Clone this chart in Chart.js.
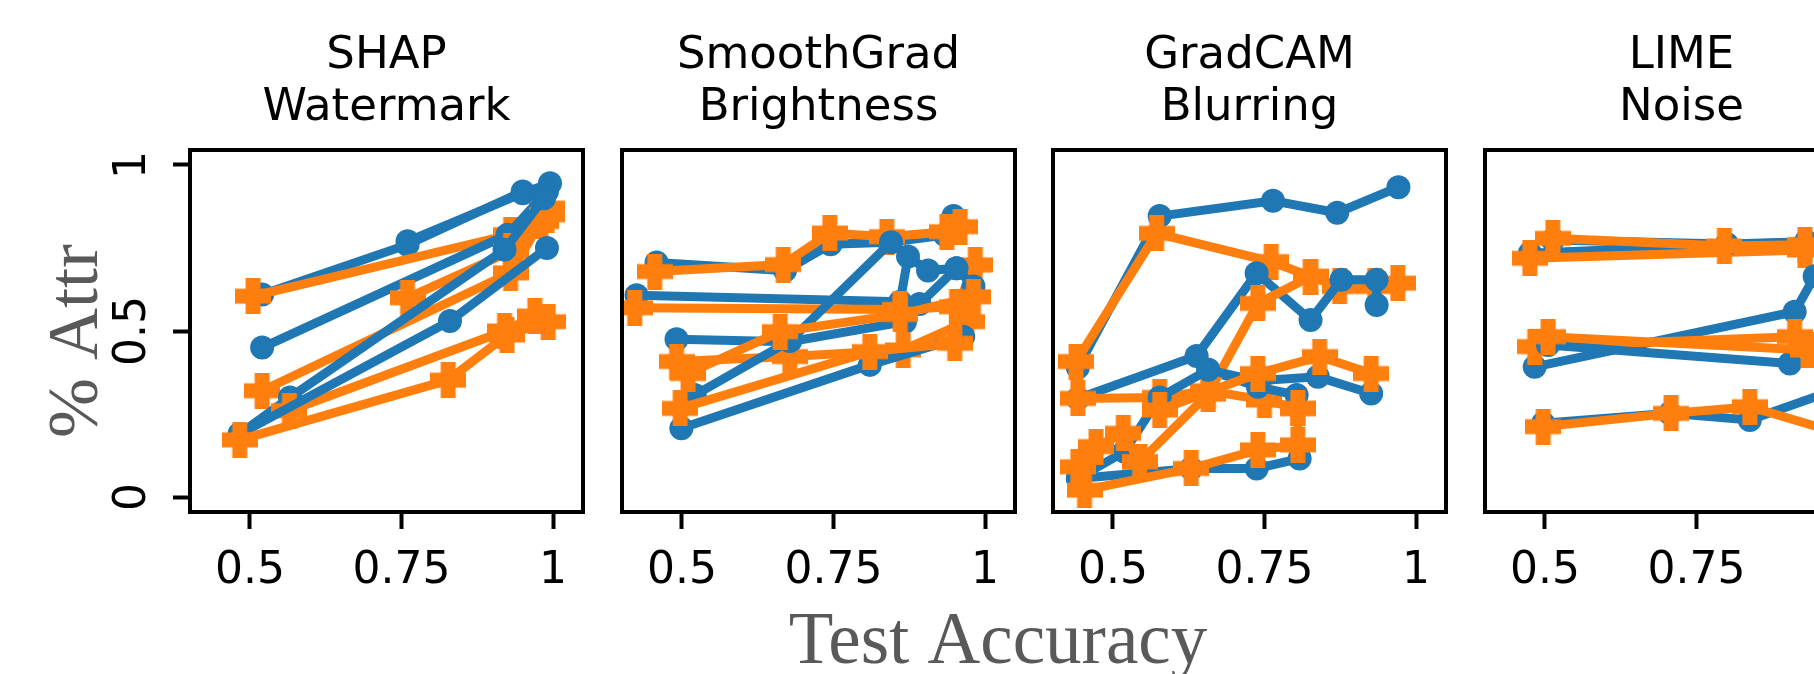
<!DOCTYPE html>
<html>
<head>
<meta charset="utf-8">
<script src="https://cdn.jsdelivr.net/npm/chart.js@4.4.0/dist/chart.umd.min.js"></script>
<style>
  html, body { margin: 0; padding: 0; background: #fff; overflow: hidden; width: 1814px; height: 674px; }
  .panel { position: absolute; left: 0; top: 0; width: 1900px; height: 674px; }
</style>
</head>
<body>
<div class="panel"><canvas id="c0"></canvas></div>
<div class="panel"><canvas id="c1"></canvas></div>
<div class="panel"><canvas id="c2"></canvas></div>
<div class="panel"><canvas id="c3"></canvas></div>
<script>
const BLUE = '#1f77b4';
const ORANGE = '#ff7f0e';

const titles = [['SHAP', 'Watermark'], ['SmoothGrad', 'Brightness'], ['GradCAM', 'Blurring'], ['LIME', 'Noise']];
const xTicks = [0.5, 0.75, 1];
const xTickLabels = ['0.5', '0.75', '1'];
const yTicks = [0, 0.5, 1];
const yTickLabels = ['0', '0.5', '1'];
const xLabel = 'Test Accuracy';
const yLabel = '% Attr';

// each line = [[test accuracy, % attr], ...]
const shapBlue = [
  [[0.52, 0.61], [0.76, 0.76], [0.95, 0.92]],
  [[0.76, 0.77], [0.95, 0.915], [0.995, 0.945]],
  [[0.52, 0.45], [0.925, 0.79], [0.99, 0.92]],
  [[0.483, 0.19], [0.566, 0.30], [0.92, 0.745], [0.985, 0.90]],
  [[0.483, 0.19], [0.83, 0.53], [0.99, 0.75]]
];
const shapOrange = [
  [[0.505, 0.605], [0.93, 0.79], [0.99, 0.87]],
  [[0.52, 0.32], [0.93, 0.675], [0.98, 0.83]],
  [[0.76, 0.60], [0.93, 0.74], [0.99, 0.85]],
  [[0.565, 0.26], [0.92, 0.50], [0.97, 0.545]],
  [[0.483, 0.172], [0.827, 0.352], [0.924, 0.488], [0.992, 0.528]]
];

const sgBlue = [
  [[0.458, 0.706], [0.670, 0.682], [0.745, 0.761], [0.842, 0.767], [0.934, 0.789], [0.948, 0.846]],
  [[0.425, 0.608], [0.860, 0.588], [0.873, 0.724], [0.906, 0.682], [0.953, 0.689]],
  [[0.491, 0.475], [0.678, 0.468], [0.868, 0.528], [0.892, 0.581], [0.953, 0.689], [0.981, 0.634]],
  [[0.521, 0.307], [0.678, 0.47], [0.845, 0.767]],
  [[0.499, 0.207], [0.810, 0.398], [0.964, 0.483]]
];
const sgOrange = [
  [[0.455, 0.679], [0.667, 0.70], [0.744, 0.795], [0.838, 0.784], [0.937, 0.799], [0.959, 0.814]],
  [[0.422, 0.57], [0.860, 0.565], [0.953, 0.573], [0.984, 0.699]],
  [[0.491, 0.408], [0.678, 0.423], [0.865, 0.443], [0.970, 0.528]],
  [[0.510, 0.372], [0.662, 0.498], [0.860, 0.55], [0.981, 0.603]],
  [[0.497, 0.267], [0.810, 0.438], [0.950, 0.463]]
];

const gcBlue = [
  [[0.442, 0.39], [0.577, 0.846], [0.764, 0.892], [0.870, 0.856], [0.971, 0.933]],
  [[0.442, 0.297], [0.638, 0.425], [0.737, 0.674], [0.826, 0.533], [0.877, 0.654], [0.935, 0.654], [0.935, 0.578]],
  [[0.442, 0.056], [0.519, 0.137], [0.577, 0.300], [0.657, 0.383], [0.739, 0.332], [0.803, 0.307]],
  [[0.442, 0.056], [0.629, 0.086], [0.737, 0.086], [0.808, 0.116]],
  [[0.657, 0.383], [0.739, 0.35], [0.838, 0.362], [0.926, 0.312]]
];
const gcOrange = [
  [[0.439, 0.408], [0.572, 0.794], [0.761, 0.709], [0.826, 0.664], [0.874, 0.634], [0.932, 0.634], [0.970, 0.644]],
  [[0.442, 0.297], [0.577, 0.30], [0.657, 0.32], [0.750, 0.292], [0.805, 0.267]],
  [[0.544, 0.106], [0.657, 0.31], [0.739, 0.583], [0.826, 0.664]],
  [[0.453, 0.021], [0.629, 0.086], [0.739, 0.142], [0.805, 0.157], [0.805, 0.267]],
  [[0.442, 0.091], [0.472, 0.152], [0.517, 0.192], [0.544, 0.106]],
  [[0.577, 0.262], [0.739, 0.372], [0.841, 0.423], [0.926, 0.372]]
];

const limeBlue = [
  [[0.475, 0.734], [0.931, 0.769], [0.99, 0.78]],
  [[0.513, 0.774], [0.80, 0.762], [0.931, 0.769]],
  [[0.483, 0.392], [0.912, 0.558], [0.945, 0.665], [0.99, 0.70]],
  [[0.505, 0.458], [0.904, 0.402], [0.99, 0.42]],
  [[0.497, 0.222], [0.706, 0.252], [0.838, 0.232], [0.99, 0.33]]
];
const limeOrange = [
  [[0.475, 0.719], [0.929, 0.744], [0.99, 0.75]],
  [[0.513, 0.779], [0.796, 0.756], [0.929, 0.76]],
  [[0.483, 0.453], [0.912, 0.483], [0.99, 0.48]],
  [[0.505, 0.483], [0.934, 0.443], [0.99, 0.45]],
  [[0.497, 0.212], [0.708, 0.252], [0.838, 0.272], [0.99, 0.19]]
];

const panelBlue = [shapBlue, sgBlue, gcBlue, limeBlue];
const panelOrange = [shapOrange, sgOrange, gcOrange, limeOrange];

// layout (px)
const panelLefts = [190, 622, 1053, 1485];
const PLOT_W = 393, PLOT_TOP = 150, PLOT_BOTTOM = 512, CANVAS_W = 1900, CANVAS_H = 674;
const X_AXIS_H = 80, Y_AXIS_W = 17;

// filled plus marker (like matplotlib 'P')
function plusMarker(size, arm, color) {
  const c = document.createElement('canvas');
  c.width = size; c.height = size;
  const g = c.getContext('2d');
  g.fillStyle = color;
  const a = (size - arm) / 2;
  g.fillRect(a, 0, arm, size);
  g.fillRect(0, a, size, arm);
  return c;
}
const plusImg = plusMarker(36, 15, ORANGE);

function toXY(line) { return line.map(p => ({ x: p[0], y: p[1] })); }

const framePlugin = {
  id: 'frame',
  afterDraw(chart, args, opts) {
    const { ctx, chartArea: a } = chart;
    ctx.save();
    ctx.strokeStyle = '#000';
    ctx.lineWidth = 4;
    ctx.strokeRect(a.left, a.top, a.right - a.left, a.bottom - a.top);
    // two-line title
    ctx.fillStyle = '#000';
    ctx.font = '45px "DejaVu Sans"';
    ctx.textAlign = 'center';
    ctx.textBaseline = 'alphabetic';
    const cx = (a.left + a.right) / 2;
    ctx.fillText(opts.title[0], cx, 68);
    ctx.fillText(opts.title[1], cx, 120);

    if (opts.first) {
      // rotated y tick labels
      const ys = chart.scales.y;
      ctx.font = '44px "DejaVu Sans"';
      yTicks.forEach((v, i) => {
        ctx.save();
        ctx.translate(a.left - 45, ys.getPixelForValue(v));
        ctx.rotate(-Math.PI / 2);
        ctx.fillText(yTickLabels[i], 0, 0);
        ctx.restore();
      });
      // axis titles
      ctx.fillStyle = '#595959';
      ctx.font = '72px "Liberation Serif"';
      ctx.save();
      ctx.translate(97, (a.top + a.bottom) / 2 + 10);
      ctx.rotate(-Math.PI / 2);
      ctx.fillText(yLabel, 0, 0);
      ctx.restore();
      ctx.font = '73px "Liberation Serif"';
      ctx.fillText(xLabel, 998, 663);
    }
    ctx.restore();
  }
};

function makeChart(i) {
  const L = panelLefts[i];
  const datasets = [];
  const blue = panelBlue[i], orange = panelOrange[i];
  const n = Math.max(blue.length, orange.length);
  let k = 0;
  for (let j = 0; j < n; j++) {
    if (blue[j]) {
      datasets.push({
        data: toXY(blue[j]), showLine: true, order: -(k++),
        borderColor: BLUE, backgroundColor: BLUE, borderWidth: 9,
        pointStyle: 'circle', pointRadius: 12, pointBorderWidth: 0,
        pointBackgroundColor: BLUE, tension: 0
      });
    }
    if (orange[j]) {
      datasets.push({
        data: toXY(orange[j]), showLine: true, order: -(k++),
        borderColor: ORANGE, backgroundColor: ORANGE, borderWidth: 9,
        pointStyle: plusImg, pointRadius: 18, pointBorderWidth: 0, tension: 0
      });
    }
  }

  new Chart(document.getElementById('c' + i), {
    type: 'scatter',
    data: { datasets },
    options: {
      responsive: true,
      maintainAspectRatio: false,
      animation: false,
      layout: {
        padding: {
          left: L - Y_AXIS_W,
          right: CANVAS_W - L - PLOT_W,
          top: PLOT_TOP,
          bottom: CANVAS_H - PLOT_BOTTOM - X_AXIS_H
        }
      },
      plugins: {
        legend: { display: false },
        tooltip: { enabled: false },
        frame: { title: titles[i], first: i === 0 }
      },
      scales: {
        x: {
          type: 'linear', min: 0.401, max: 1.0495,
          afterBuildTicks: s => { s.ticks = xTicks.map(v => ({ value: v })); },
          afterFit: s => { s.height = X_AXIS_H; },
          border: { display: false },
          grid: { display: true, drawOnChartArea: false, drawTicks: true, tickLength: 17, tickWidth: 4, tickColor: '#000' },
          ticks: {
            color: '#000', padding: 16, maxRotation: 0, autoSkip: false,
            font: { family: 'DejaVu Sans', size: 44 },
            callback: v => xTickLabels[xTicks.indexOf(v)]
          }
        },
        y: {
          type: 'linear', min: -0.045, max: 1.045,
          afterBuildTicks: s => { s.ticks = yTicks.map(v => ({ value: v })); },
          afterFit: s => { s.width = Y_AXIS_W; },
          border: { display: false },
          grid: { display: i === 0, drawOnChartArea: false, drawTicks: true, tickLength: 17, tickWidth: 4, tickColor: '#000' },
          ticks: { display: false }
        }
      }
    },
    plugins: [framePlugin]
  });
}

[0, 1, 2, 3].forEach(makeChart);
</script>
</body>
</html>
